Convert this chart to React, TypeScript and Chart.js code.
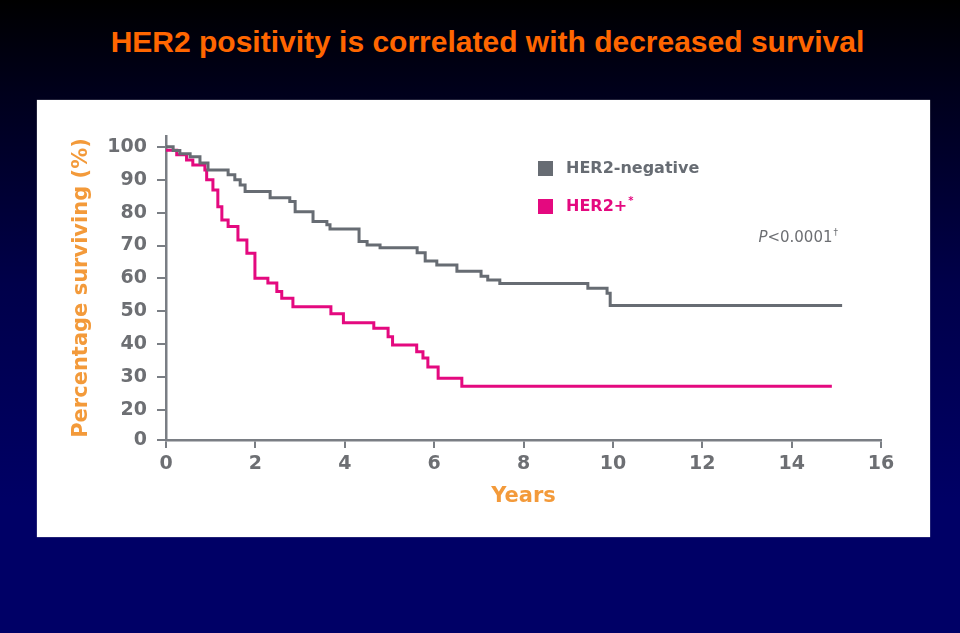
import React, { useEffect, useRef } from 'react';
import { Chart, registerables } from 'chart.js';

Chart.register(...registerables);

const TITLE = 'HER2 positivity is correlated with decreased survival';
const X_TITLE = 'Years';
const Y_TITLE = 'Percentage surviving (%)';
const P_MAIN = '<0.0001';
const P_SUP = '†';

const seriesLabels = ['HER2-negative', 'HER2+'];
const seriesSup = ['', '*'];

const herNegYears = [0, 0.16, 0.31, 0.54, 0.76, 0.94, 1.39, 1.54, 1.66, 1.77, 2.33, 2.77, 2.89, 3.29, 3.6, 3.67, 4.32, 4.5, 4.79, 5.62, 5.8, 6.06, 6.51, 7.05, 7.2, 7.47, 9.44, 9.87, 9.94, 15.13];
const herNegSurvival = [100, 98.9, 97.9, 97.0, 95.1, 93.0, 91.5, 90.0, 88.4, 86.4, 84.5, 83.4, 80.3, 77.3, 76.3, 75.0, 71.2, 70.2, 69.3, 67.8, 65.3, 64.1, 62.2, 60.7, 59.5, 58.5, 57.0, 55.5, 51.8, 51.8];

const herPosYears = [0, 0.24, 0.46, 0.6, 0.87, 0.91, 1.05, 1.16, 1.25, 1.39, 1.61, 1.81, 1.99, 2.28, 2.48, 2.59, 2.84, 3.69, 3.97, 4.65, 4.97, 5.07, 5.61, 5.75, 5.86, 6.09, 6.62, 14.9];
const herPosSurvival = [99, 97.6, 96.0, 94.5, 93.0, 90.0, 86.9, 81.8, 77.8, 75.8, 71.7, 67.7, 60.1, 58.6, 56.0, 54.0, 51.4, 49.3, 46.5, 44.9, 42.3, 39.8, 37.7, 35.8, 33.1, 29.7, 27.2, 27.2];

const xTickValues = [0, 2, 4, 6, 8, 10, 12, 14, 16];
// the axis is broken between 0 and 20: the "0" tick sits at the compressed floor value
const yTickValues = [10.9, 20, 30, 40, 50, 60, 70, 80, 90, 100];
const yTickLabels = ['0', '20', '30', '40', '50', '60', '70', '80', '90', '100'];
const Y_AXIS_TOP = 103.3;

const GREY = '#676c73';
const PINK = '#e4097f';
const AXIS = '#7a7e84';
const TICK_TEXT = '#6d6f73';
const ORANGE_LIGHT = '#f39a3a';

const legendPlugin = {
  id: 'kmLegend',
  afterDraw(chart: any) {
    const ctx = chart.ctx;
    const a = chart.chartArea;
    ctx.save();
    chart.data.datasets.forEach((ds: any, i: number) => {
      const cy = a.top + 32.5 + i * 38;
      const sx = a.left + 372;
      ctx.fillStyle = ds.borderColor;
      ctx.fillRect(sx, cy - 7.5, 15, 15);
      ctx.font = 'bold 16px "DejaVu Sans", sans-serif';
      ctx.textBaseline = 'middle';
      ctx.textAlign = 'left';
      const tx = a.left + 400;
      ctx.fillText(seriesLabels[i], tx, cy);
      if (seriesSup[i]) {
        const w = ctx.measureText(seriesLabels[i]).width;
        ctx.font = 'bold 10px "DejaVu Sans", sans-serif';
        ctx.fillText(seriesSup[i], tx + w + 1, cy - 5);
      }
    });
    // P value
    const right = a.left + 672;
    const py = a.top + 102;
    ctx.fillStyle = TICK_TEXT;
    ctx.textBaseline = 'middle';
    ctx.textAlign = 'left';
    ctx.font = 'italic 15px "DejaVu Sans", sans-serif';
    const wP = ctx.measureText('P').width;
    ctx.font = '15px "DejaVu Sans", sans-serif';
    const wM = ctx.measureText(P_MAIN).width;
    ctx.font = '9px "DejaVu Sans", sans-serif';
    const wS = ctx.measureText(P_SUP).width;
    let x = right - (wP + wM + wS + 1);
    ctx.font = 'italic 15px "DejaVu Sans", sans-serif';
    ctx.fillText('P', x, py);
    x += wP;
    ctx.font = '15px "DejaVu Sans", sans-serif';
    ctx.fillText(P_MAIN, x, py);
    x += wM + 1;
    ctx.font = '9px "DejaVu Sans", sans-serif';
    ctx.fillText(P_SUP, x, py - 5);
    ctx.restore();
  },
};

export default function App() {
  const ref = useRef<HTMLCanvasElement>(null);

  useEffect(() => {
    const tickFont = { family: '"DejaVu Sans", sans-serif', size: 19, weight: 'bold' as const };
    const titleFont = { family: '"DejaVu Sans", sans-serif', size: 21, weight: 'bold' as const };
    const chart = new Chart(ref.current!, {
      type: 'line',
      data: {
        datasets: [
          {
            label: seriesLabels[0],
            data: herNegYears.map((x, i) => ({ x, y: herNegSurvival[i] })),
            borderColor: GREY,
            backgroundColor: GREY,
            borderWidth: 3,
            stepped: 'before',
            pointRadius: 0,
            fill: false,
            borderJoinStyle: 'miter',
          },
          {
            label: seriesLabels[1] + seriesSup[1],
            data: herPosYears.map((x, i) => ({ x, y: herPosSurvival[i] })),
            borderColor: PINK,
            backgroundColor: PINK,
            borderWidth: 3,
            stepped: 'before',
            pointRadius: 0,
            fill: false,
            borderJoinStyle: 'miter',
          },
        ],
      },
      options: {
        responsive: false,
        animation: false,
        devicePixelRatio: 1,
        layout: { padding: { left: 0, top: 36, right: 49, bottom: 0 } },
        plugins: { legend: { display: false }, tooltip: { enabled: false } },
        scales: {
          x: {
            type: 'linear',
            min: 0,
            max: 16,
            afterBuildTicks: (s: any) => {
              s.ticks = xTickValues.map((v) => ({ value: v }));
            },
            ticks: { color: TICK_TEXT, font: tickFont, padding: 5, maxRotation: 0, autoSkip: false },
            grid: { drawOnChartArea: false, drawTicks: true, tickLength: 8, color: AXIS, lineWidth: 2 },
            border: { display: true, color: AXIS, width: 2.5 },
            title: { display: true, text: X_TITLE, color: ORANGE_LIGHT, font: titleFont, padding: { top: 0, bottom: 28 } },
            afterFit: (s: any) => {
              s.height = 97;
            },
          },
          y: {
            type: 'linear',
            min: yTickValues[0],
            max: Y_AXIS_TOP,
            afterBuildTicks: (s: any) => {
              s.ticks = yTickValues.map((v) => ({ value: v }));
            },
            ticks: {
              color: TICK_TEXT,
              font: tickFont,
              padding: 10,
              autoSkip: false,
              callback: (_v: any, i: number) => yTickLabels[i],
            },
            grid: { drawOnChartArea: false, drawTicks: true, tickLength: 9, color: AXIS, lineWidth: 2 },
            border: { display: true, color: AXIS, width: 2.5 },
            title: { display: true, text: Y_TITLE, color: ORANGE_LIGHT, font: titleFont, padding: { top: 32, bottom: 0 } },
            afterFit: (s: any) => {
              s.width = 129;
            },
          },
        },
      },
      plugins: [legendPlugin],
    } as any);
    return () => chart.destroy();
  }, []);

  return (
    <div
      style={{
        position: 'fixed',
        left: 0,
        top: 0,
        width: 960,
        height: 633,
        overflow: 'hidden',
        background: 'linear-gradient(180deg, #000000 0%, #00001c 15%, #00004a 45%, #000066 80%, #000066 100%)',
      }}
    >
      <div
        style={{
          position: 'absolute',
          left: 0,
          width: 975,
          top: 27,
          textAlign: 'center',
          font: 'bold 30px "Liberation Sans", Arial, sans-serif',
          lineHeight: '30px',
          color: '#ff6600',
          whiteSpace: 'nowrap',
        }}
      >
        {TITLE}
      </div>
      <div
        style={{
          position: 'absolute',
          left: 37,
          top: 100,
          width: 893,
          height: 437,
          background: '#ffffff',
          boxShadow: '0 0 1px #c8c8c8',
        }}
      >
        <canvas ref={ref} width={893} height={437} style={{ display: 'block', width: 893, height: 437 }} />
      </div>
    </div>
  );
}
